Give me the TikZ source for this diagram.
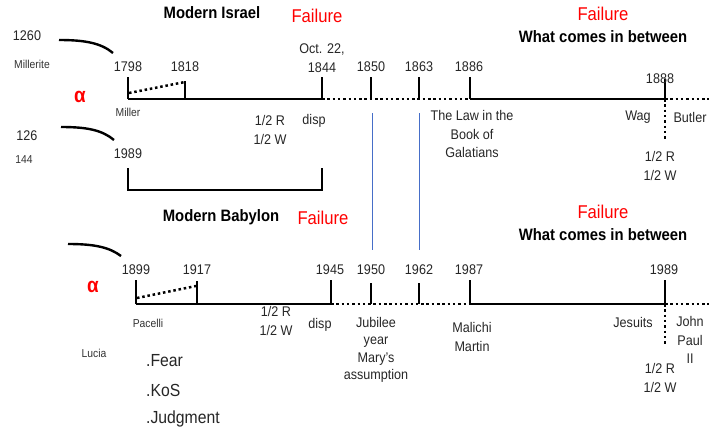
\documentclass[tikz,border=0pt]{standalone}
\usepackage{fontspec}
\setmainfont{Liberation Sans}[FakeStretch=0.9]
\begin{document}
\begin{tikzpicture}[x=1pt,y=-1pt,
  lbl/.style={font=\fontsize{14}{18.5}\selectfont, inner sep=0pt, align=center, text=black!85},
  sml/.style={font=\fontsize{11.5}{13}\selectfont, inner sep=0pt, text=black!80},
  fail/.style={font=\fontsize{18.5}{20}\selectfont, inner sep=0pt, text=red},
  ttl/.style={font=\bfseries\fontsize{16.5}{18}\selectfont, inner sep=0pt},
  alph/.style={font=\bfseries\fontsize{21}{21}\selectfont, inner sep=0pt, text=red},
  lst/.style={font=\fontsize{17.5}{19}\selectfont, inner sep=0pt, anchor=west, text=black!85},
  tl/.style={line width=2.8pt},
  dl/.style={line width=2.5pt, dash pattern=on 2.5pt off 2.8pt},
  hook/.style={line width=2.4pt},
  bl/.style={line width=0.8pt, draw={rgb,255:red,70;green,110;blue,200}}]
\useasboundingbox (0,0) rectangle (709,434);
% ---------------- TOP TIMELINE ----------------
\coordinate (a1) at (128,99); \coordinate (a1t) at (128,77);
\coordinate (a2) at (185,99); \coordinate (a2t) at (185,81);
\coordinate (a3) at (322,99); \coordinate (a3t) at (322,77);
\coordinate (a4) at (371,99); \coordinate (a4t) at (371,77);
\coordinate (a5) at (419,99); \coordinate (a5t) at (419,77);
\coordinate (a6) at (470,99); \coordinate (a6t) at (470,77);
\coordinate (a7) at (665,99); \coordinate (a7t) at (665,79);
\coordinate (a7b) at (665,140);
\coordinate (aend) at (709,99);
\draw[tl] (a1) -- (a3);
\draw[dl] (a3) -- (a6);
\draw[tl] (a6) -- (a7);
\draw[dl] (a7) -- (aend);
\foreach \i in {1,...,7} {\draw[tl] (a\i) -- (a\i t);}
\draw[dl] (a7) -- (a7b);
\coordinate (d1) at (129,93); \coordinate (d2) at (185,82);
\draw[dl] (d1) -- (d2);
% bracket
\coordinate (b1) at (128,168); \coordinate (b2) at (128,190);
\coordinate (b3) at (322,190); \coordinate (b4) at (322,168);
\draw[tl] (b1) -- (b2) -- (b3) -- (b4);
% blue lines
\coordinate (u1) at (372,113); \coordinate (u2) at (372,250);
\coordinate (v1) at (419,113); \coordinate (v2) at (419,250);
\draw[bl] (u1) -- (u2);
\draw[bl] (v1) -- (v2);
% hooks
\coordinate (h1a) at (59,40); \coordinate (h1b) at (113,53);
\draw[hook] (h1a) .. controls (85,40) and (101,43) .. (h1b);
\coordinate (h2a) at (61,127); \coordinate (h2b) at (114,140);
\draw[hook] (h2a) .. controls (87,127) and (102,130) .. (h2b);
% labels
\node[ttl] (t1) at (212,13) {Modern Israel};
\node[fail] (f1) at (317,16) {Failure};
\node[fail] (f2) at (603,14) {Failure};
\node[ttl] (w1) at (603,37) {What comes in between};
\node[lbl] (n1260) at (27,36) {1260};
\node[sml] (mil) at (32,64) {Millerite};
\node[alph] (al1) at (80,97) {α};
\node[sml] (mlr) at (128,112) {Miller};
\node[lbl] (n126) at (27,136) {126};
\node[sml] (n144) at (24,160) {144};
\node[lbl] (y1989a) at (128,154) {1989};
\node[lbl] (y1798) at (128,67) {1798};
\node[lbl] (y1818) at (185,67) {1818};
\node[lbl] (y1844) at (322,58) {Oct. 22,\\1844};
\node[lbl] (y1850) at (371,67) {1850};
\node[lbl] (y1863) at (419,67) {1863};
\node[lbl] (y1886) at (469,67) {1886};
\node[lbl] (y1888) at (660,79) {1888};
\node[lbl] (rw1) at (270,130) {1/2 R\\1/2 W};
\node[lbl] (disp1) at (314,121) {disp};
\node[lbl] (gal) at (472,134) {The Law in the\\Book of\\Galatians};
\node[lbl] (wag) at (638,117) {Wag};
\node[lbl] (but) at (690,117) {Butler};
\node[lbl] (rw2) at (660,166) {1/2 R\\1/2 W};
% ---------------- BOTTOM TIMELINE ----------------
\coordinate (c1) at (136,304); \coordinate (c1t) at (136,280);
\coordinate (c2) at (197,304); \coordinate (c2t) at (197,281);
\coordinate (c3) at (331,304); \coordinate (c3t) at (331,280);
\coordinate (c4) at (371,304); \coordinate (c4t) at (371,283);
\coordinate (c5) at (419,304); \coordinate (c5t) at (419,283);
\coordinate (c6) at (470,304); \coordinate (c6t) at (470,280);
\coordinate (c7) at (665,304); \coordinate (c7t) at (665,280);
\coordinate (c7b) at (665,345);
\coordinate (cend) at (709,304);
\draw[tl] (c1) -- (c3);
\draw[dl] (c3) -- (c6);
\draw[tl] (c6) -- (c7);
\draw[dl] (c7) -- (cend);
\foreach \i in {1,...,7} {\draw[tl] (c\i) -- (c\i t);}
\draw[dl] (c7) -- (c7b);
\coordinate (e1) at (137,298); \coordinate (e2) at (196,286);
\draw[dl] (e1) -- (e2);
\coordinate (h3a) at (68,244); \coordinate (h3b) at (121,256);
\draw[hook] (h3a) .. controls (94,244) and (109,247) .. (h3b);
\node[ttl] (t2) at (221,217) {Modern Babylon};
\node[fail] (f3) at (323,218) {Failure};
\node[fail] (f4) at (603,212) {Failure};
\node[ttl] (w2) at (603,235) {What comes in between};
\node[alph] (al2) at (93,287) {α};
\node[lbl] (y1899) at (136,270) {1899};
\node[lbl] (y1917) at (197,270) {1917};
\node[lbl] (y1945) at (330,270) {1945};
\node[lbl] (y1950) at (371,270) {1950};
\node[lbl] (y1962) at (419,270) {1962};
\node[lbl] (y1987) at (469,270) {1987};
\node[lbl] (y1989) at (664,270) {1989};
\node[sml] (pac) at (148,323) {Pacelli};
\node[sml] (luc) at (94,353) {Lucia};
\node[lbl] (rw3) at (276,321) {1/2 R\\1/2 W};
\node[lbl] (disp2) at (320,325) {disp};
\node[lbl, font=\fontsize{14}{17.5}\selectfont] (jub) at (376,350) {Jubilee\\year\\Mary's\\assumption};
\node[lbl] (mal) at (472,337) {Malichi\\Martin};
\node[lbl] (jes) at (633,322) {Jesuits};
\node[lbl] (jp) at (690,340) {John\\Paul\\II};
\node[lbl] (rw4) at (660,378) {1/2 R\\1/2 W};
\node[lst] (fear) at (146,361) {.Fear};
\node[lst] (kos) at (146,390) {.KoS};
\node[lst] (jud) at (146,419) {.Judgment};
\end{tikzpicture}
\end{document}
